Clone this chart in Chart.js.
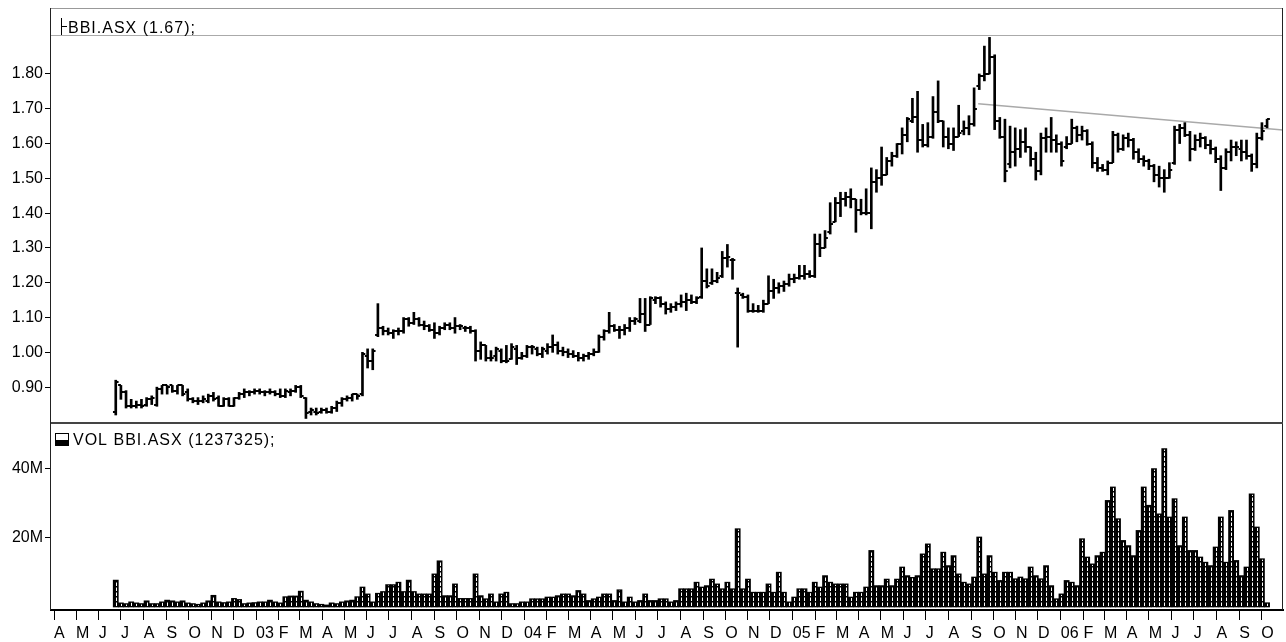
<!DOCTYPE html>
<html><head><meta charset="utf-8">
<script src="https://cdn.jsdelivr.net/npm/chart.js@4.4.1/dist/chart.umd.min.js"></script>
<style>html,body{margin:0;padding:0;background:#fff;overflow:hidden}canvas{display:block}</style>
</head><body>
<canvas id="c" width="1286" height="642" style="width:1286px;height:642px"></canvas>
<script>
// ---- data (weekly bars, week index = weeks after Mon 1 Apr 2002) ----
const symbol = 'BBI.ASX';
const lastClose = '1.67';
const lastVolume = '1237325';
const firstWeek = 12;
const opens = [
0.83,0.905,0.885,0.845,0.845,0.85,0.85,0.865,0.85,0.895,
0.905,0.905,0.89,0.905,0.885,0.865,0.86,0.86,0.86,0.875,
0.87,0.845,0.865,0.845,0.87,0.88,0.885,0.885,0.89,0.885,
0.885,0.885,0.88,0.875,0.885,0.89,0.9,0.87,0.83,0.83,
0.83,0.835,0.83,0.84,0.855,0.865,0.87,0.88,0.88,0.99,
0.975,1.05,1.07,1.06,1.055,1.06,1.06,1.095,1.085,1.095,
1.08,1.075,1.065,1.055,1.07,1.08,1.07,1.075,1.07,1.07,
1.06,1.005,1.02,0.985,0.99,1.005,0.975,0.98,1.01,0.985,
0.99,1.015,1.01,0.995,1.005,1.015,1.02,1.005,1.0,0.995,
0.99,0.985,0.99,0.995,1.0,1.045,1.06,1.075,1.065,1.065,
1.07,1.09,1.09,1.11,1.08,1.15,1.155,1.14,1.125,1.13,
1.14,1.145,1.15,1.145,1.16,1.205,1.2,1.205,1.22,1.27,
1.265,1.17,1.165,1.16,1.12,1.12,1.12,1.14,1.175,1.185,
1.19,1.195,1.21,1.215,1.22,1.225,1.22,1.31,1.3,1.345,
1.375,1.43,1.44,1.445,1.44,1.41,1.4,1.4,1.49,1.5,
1.51,1.55,1.565,1.6,1.625,1.665,1.675,1.61,1.595,1.62,
1.69,1.665,1.62,1.6,1.62,1.635,1.645,1.655,1.765,1.795,
1.8,1.85,1.665,1.62,1.54,1.575,1.585,1.605,1.59,1.555,
1.52,1.615,1.62,1.61,1.6,1.59,1.6,1.645,1.625,1.635,
1.6,1.545,1.53,1.525,1.545,1.625,1.585,1.615,1.61,1.575,
1.555,1.55,1.535,1.51,1.5,1.5,1.545,1.64,1.645,1.625,
1.585,1.61,1.615,1.595,1.585,1.555,1.53,1.575,1.59,1.585,
1.575,1.565,1.54,1.615,1.65];
const highs = [
0.92,0.905,0.89,0.865,0.86,0.865,0.87,0.875,0.9,0.905,
0.905,0.905,0.905,0.905,0.895,0.87,0.87,0.875,0.88,0.885,
0.875,0.87,0.87,0.87,0.885,0.895,0.89,0.895,0.895,0.89,
0.895,0.89,0.895,0.895,0.895,0.905,0.905,0.87,0.84,0.84,
0.84,0.84,0.845,0.86,0.87,0.875,0.88,0.88,1.0,1.01,
1.01,1.14,1.075,1.07,1.065,1.07,1.1,1.1,1.115,1.1,
1.09,1.08,1.085,1.075,1.085,1.085,1.1,1.08,1.075,1.075,
1.065,1.03,1.02,1.005,1.015,1.01,1.02,1.025,1.02,1.0,
1.02,1.02,1.015,1.015,1.025,1.05,1.03,1.015,1.01,1.005,
1.0,0.995,1.0,1.01,1.05,1.065,1.115,1.08,1.075,1.08,
1.1,1.1,1.155,1.155,1.16,1.16,1.16,1.145,1.14,1.145,
1.165,1.17,1.165,1.16,1.3,1.24,1.24,1.23,1.29,1.31,
1.27,1.185,1.17,1.165,1.14,1.135,1.15,1.22,1.21,1.2,
1.205,1.225,1.225,1.25,1.25,1.235,1.34,1.34,1.35,1.43,
1.445,1.46,1.46,1.47,1.44,1.44,1.47,1.53,1.525,1.59,
1.56,1.575,1.6,1.645,1.675,1.73,1.75,1.655,1.66,1.735,
1.78,1.665,1.645,1.645,1.71,1.665,1.68,1.76,1.8,1.88,
1.905,1.855,1.675,1.67,1.65,1.645,1.64,1.645,1.59,1.575,
1.63,1.645,1.675,1.625,1.605,1.62,1.67,1.65,1.65,1.64,
1.605,1.56,1.54,1.55,1.635,1.63,1.625,1.63,1.615,1.585,
1.565,1.555,1.54,1.535,1.525,1.545,1.65,1.655,1.66,1.635,
1.625,1.63,1.62,1.61,1.59,1.565,1.585,1.61,1.605,1.61,
1.61,1.57,1.63,1.66,1.67];
const lows = [
0.82,0.865,0.84,0.84,0.84,0.84,0.845,0.85,0.845,0.88,
0.88,0.885,0.88,0.875,0.86,0.855,0.85,0.855,0.855,0.86,
0.845,0.845,0.845,0.845,0.865,0.87,0.875,0.88,0.88,0.875,
0.88,0.875,0.87,0.87,0.875,0.885,0.87,0.81,0.82,0.82,
0.825,0.825,0.825,0.83,0.845,0.86,0.86,0.865,0.875,0.955,
0.95,1.045,1.05,1.05,1.04,1.05,1.055,1.075,1.08,1.075,
1.065,1.06,1.04,1.05,1.065,1.065,1.055,1.065,1.06,1.055,
0.975,0.98,0.975,0.975,0.975,0.97,0.97,0.98,0.965,0.98,
0.985,0.995,0.99,0.985,0.995,1.0,0.995,0.99,0.985,0.985,
0.975,0.975,0.98,0.99,1.0,1.035,1.055,1.06,1.04,1.05,
1.06,1.08,1.085,1.06,1.08,1.14,1.13,1.11,1.115,1.12,
1.13,1.12,1.14,1.14,1.155,1.185,1.195,1.2,1.215,1.245,
1.21,1.015,1.155,1.115,1.115,1.115,1.115,1.14,1.155,1.17,
1.175,1.19,1.2,1.21,1.21,1.215,1.215,1.275,1.3,1.34,
1.375,1.39,1.42,1.415,1.345,1.395,1.395,1.355,1.46,1.48,
1.51,1.535,1.56,1.57,1.605,1.66,1.575,1.59,1.59,1.615,
1.66,1.59,1.585,1.58,1.62,1.625,1.625,1.65,1.755,1.78,
1.8,1.64,1.615,1.49,1.53,1.535,1.56,1.575,1.535,1.495,
1.51,1.575,1.575,1.575,1.535,1.585,1.6,1.605,1.61,1.595,
1.53,1.52,1.52,1.51,1.545,1.575,1.58,1.59,1.555,1.545,
1.535,1.525,1.49,1.475,1.46,1.5,1.54,1.6,1.62,1.55,
1.58,1.59,1.585,1.57,1.545,1.465,1.525,1.55,1.565,1.55,
1.555,1.52,1.53,1.61,1.645];
const closes = [
0.915,0.885,0.845,0.845,0.85,0.845,0.865,0.87,0.895,0.905,
0.9,0.89,0.905,0.88,0.865,0.86,0.86,0.865,0.875,0.865,
0.845,0.865,0.845,0.87,0.88,0.885,0.885,0.89,0.885,0.885,
0.885,0.88,0.875,0.89,0.89,0.9,0.875,0.825,0.835,0.825,
0.835,0.83,0.84,0.855,0.865,0.87,0.88,0.875,0.995,0.975,
1.005,1.07,1.06,1.055,1.06,1.06,1.095,1.085,1.095,1.08,
1.075,1.065,1.055,1.07,1.08,1.07,1.075,1.075,1.07,1.06,
1.005,1.02,0.985,0.985,1.01,0.975,0.975,1.015,0.985,0.99,
1.015,1.015,0.995,1.01,1.015,1.02,1.005,1.0,0.995,0.99,
0.985,0.99,0.995,1.0,1.045,1.06,1.075,1.065,1.065,1.07,
1.09,1.095,1.11,1.08,1.155,1.155,1.14,1.125,1.13,1.14,
1.145,1.15,1.145,1.155,1.205,1.19,1.205,1.215,1.27,1.275,
1.265,1.17,1.16,1.12,1.12,1.12,1.14,1.175,1.185,1.19,
1.195,1.21,1.215,1.22,1.225,1.22,1.31,1.3,1.33,1.37,
1.43,1.44,1.445,1.44,1.41,1.4,1.4,1.49,1.5,1.51,
1.55,1.565,1.6,1.625,1.67,1.675,1.61,1.595,1.62,1.69,
1.665,1.62,1.6,1.62,1.63,1.645,1.655,1.7,1.795,1.8,
1.85,1.665,1.62,1.52,1.575,1.585,1.605,1.59,1.555,1.52,
1.615,1.62,1.61,1.6,1.55,1.6,1.645,1.625,1.635,1.6,
1.545,1.53,1.525,1.545,1.625,1.585,1.615,1.61,1.575,1.555,
1.55,1.535,1.51,1.5,1.5,1.525,1.64,1.645,1.625,1.585,
1.61,1.615,1.595,1.585,1.555,1.53,1.575,1.59,1.59,1.575,
1.565,1.54,1.615,1.635,1.67];
const volumes = [ // millions of shares
7.8,1.2,1.0,1.5,1.2,1.0,1.8,1.0,1.0,1.5,
2.0,1.8,1.5,1.8,1.2,1.0,0.8,1.2,1.8,3.4,
1.5,1.3,1.5,2.5,2.2,1.0,1.2,1.3,1.5,1.5,
2.0,1.5,1.2,3.0,3.2,3.2,4.6,2.0,1.5,1.0,
0.8,0.6,1.2,1.0,1.5,1.8,2.0,3.0,5.8,3.8,
1.5,4.0,4.5,6.5,6.5,7.2,4.5,7.8,4.5,3.8,
3.8,3.8,9.6,13.4,3.3,3.3,6.7,2.5,2.5,2.5,
9.6,3.3,2.4,3.8,1.5,3.8,4.3,1.0,1.0,1.5,
1.5,2.4,2.4,2.4,2.9,2.9,3.3,3.8,3.8,3.3,
4.8,3.8,1.9,2.4,2.9,3.8,3.8,1.9,5.0,1.5,
2.9,1.5,1.9,3.8,1.9,1.9,2.4,2.4,1.5,1.9,
5.3,5.3,5.3,7.2,5.8,6.2,8.1,6.7,5.3,7.2,
5.3,22.7,5.3,8.1,4.3,4.3,4.3,6.7,4.3,10.1,
4.3,1.5,2.9,5.3,5.3,4.3,7.2,5.8,9.1,7.2,
6.7,6.7,6.7,2.9,4.3,4.3,5.8,16.4,6.2,6.2,
8.1,6.2,8.1,11.6,9.1,8.6,9.1,15.4,18.3,11.1,
11.1,15.9,12.0,14.9,9.6,7.2,6.7,8.7,20.3,9.6,
14.9,10.1,7.7,10.1,10.1,8.2,8.7,8.2,11.6,9.1,
8.2,12.0,6.2,2.4,3.8,7.7,7.2,6.2,19.8,14.5,
12.5,14.9,15.9,30.9,34.8,25.6,19.3,17.8,14.9,22.2,
34.8,29.5,40.1,27.0,45.9,26.1,31.4,17.8,26.1,16.4,
16.4,14.5,13.0,12.0,17.4,26.1,13.0,28.0,13.5,9.1,
11.6,32.8,23.2,14.0,1.24];
const monthLabels = ['A','M','J','J','A','S','O','N','D',
 '03','F','M','A','M','J','J','A','S','O','N','D',
 '04','F','M','A','M','J','J','A','S','O','N','D',
 '05','F','M','A','M','J','J','A','S','O','N','D',
 '06','F','M','A','M','J','J','A','S','O'];
const priceTicks = [0.9,1.0,1.1,1.2,1.3,1.4,1.5,1.6,1.7,1.8];
const volumeTicks = [20,40];
const trendX = [179.8, 239.1];
const trendY = [1.714, 1.639];

// month tick positions in week units (calendar derived)
const base = Date.UTC(2002, 3, 1);
const monthTicks = monthLabels.map((_, k) => (Date.UTC(2002, 3 + k, 1) - base) / (7 * 86400000));

const YFONT = {family: "'Liberation Sans', Arial, sans-serif", size: 16};
const XFONT = {family: "'Liberation Sans Narrow', 'Liberation Sans', Arial, sans-serif", size: 16};

const decor = {
  id: 'decor',
  afterDatasetsDraw(chart) {
    const {ctx, scales: {x, y}} = chart;
    ctx.save();
    // hatch inside volume bars
    const vm = chart.getDatasetMeta(0);
    ctx.fillStyle = '#fff';
    vm.data.forEach(bar => {
      const p = bar.getProps(['x', 'y', 'base'], true);
      const top = Math.min(p.y, p.base), bot = Math.max(p.y, p.base);
      if (bot - top < 2.5) return;
      const cx = Math.round(p.x);
      for (let yy = bot - 1; yy > top + 1; yy -= 5) {
        const y0 = Math.max(top + 1, yy - 3.5);
        ctx.fillRect(cx, y0, 1, yy - y0);
      }
    });
    // open / close ticks
    ctx.fillStyle = '#000';
    opens.forEach((o, k) => {
      const px = x.getPixelForValue(firstWeek + k);
      const po = Math.round(y.getPixelForValue(o));
      const pc = Math.round(y.getPixelForValue(closes[k]));
      ctx.fillRect(px - 2.8, po - 1, 2.8, 2);
      ctx.fillRect(px, pc - 1, 2.8, 2);
    });
    ctx.restore();
  },
  afterDraw(chart) {
    const {ctx, chartArea: ca, scales: {yv}} = chart;
    ctx.save();
    const L = ca.left, R = ca.right;
    // frame
    ctx.fillStyle = '#999';
    ctx.fillRect(L, 8, R - L, 1);            // top
    ctx.fillStyle = '#aaa';
    ctx.fillRect(L, ca.top - 1, R - L, 1);   // header separator
    ctx.fillStyle = '#222';
    ctx.fillRect(L - 1, 8, 1, ca.bottom - 8);     // left
    ctx.fillRect(R - 1, 8, 1, ca.bottom - 8);     // right
    ctx.fillStyle = '#444';
    ctx.fillRect(L, yv.top - 1, R - L, 2);   // panel separator
    // headers
    ctx.fillStyle = '#000';
    ctx.strokeStyle = '#000';
    ctx.lineWidth = 1;
    ctx.beginPath();
    ctx.moveTo(61.5, 18); ctx.lineTo(61.5, 35);
    ctx.moveTo(61.5, 26.5); ctx.lineTo(67, 26.5);
    ctx.stroke();
    ctx.font = "16px 'Liberation Sans', Arial, sans-serif";
    try { ctx.letterSpacing = '1px'; } catch (e) {}
    ctx.textBaseline = 'alphabetic';
    ctx.textAlign = 'left';
    ctx.fillText(symbol + ' (' + lastClose + ');', 68, 33);
    // volume header icon
    ctx.strokeRect(55.5, yv.top + 10.5, 13, 12);
    ctx.fillRect(55, yv.top + 17, 14, 6);
    ctx.fillText('VOL ' + symbol + ' (' + lastVolume + ');', 73, yv.top + 22);
    ctx.restore();
  }
};

new Chart(document.getElementById('c'), {
  type: 'bar',
  data: {
    datasets: [
      {
        type: 'bar', label: 'VOL', xAxisID: 'x', yAxisID: 'yv', grouped: false,
        data: volumes.map((v, k) => ({x: firstWeek + k, y: v})),
        backgroundColor: '#000', borderWidth: 0, barPercentage: 1, categoryPercentage: 1
      },
      {
        type: 'bar', label: symbol, xAxisID: 'x', yAxisID: 'y', grouped: false,
        data: highs.map((h, k) => ({x: firstWeek + k, y: [lows[k], h]})),
        backgroundColor: '#000', borderWidth: 0, barThickness: 2
      },
      {
        type: 'line', label: 'trend', xAxisID: 'x', yAxisID: 'y',
        data: trendX.map((v, k) => ({x: v, y: trendY[k]})),
        borderColor: '#a9a9a9', borderWidth: 1.5, pointRadius: 0, fill: false
      }
    ]
  },
  options: {
    responsive: false, animation: false, events: [],
    devicePixelRatio: 1,
    layout: {padding: {top: 36, right: 3, left: 0, bottom: 0}},
    plugins: {legend: {display: false}, tooltip: {enabled: false}, title: {display: false}},
    scales: {
      x: {
        type: 'linear', position: 'bottom', min: -0.6, max: 239.1, offset: false,
        afterBuildTicks: s => { s.ticks = monthTicks.map(v => ({value: v})); },
        afterFit: s => { s.height = 32; },
        ticks: {autoSkip: false, maxRotation: 0, align: 'start', padding: 4, color: '#000', font: XFONT,
                callback: (v, i) => monthLabels[i]},
        grid: {drawOnChartArea: false, drawTicks: true, tickLength: 10, color: '#000', lineWidth: 1, offset: false},
        border: {display: true, color: '#000', width: 2}
      },
      y: {
        type: 'linear', position: 'left', stack: 'panes', stackWeight: 387, weight: 2,
        min: 0.797, max: 1.909,
        afterBuildTicks: s => { s.ticks = priceTicks.map(v => ({value: v})); },
        afterFit: s => { s.width = 51; },
        ticks: {color: '#000', font: YFONT, padding: 2, callback: v => v.toFixed(2)},
        grid: {drawOnChartArea: false, drawTicks: true, tickLength: 6, color: '#000'},
        border: {display: false}
      },
      yv: {
        type: 'linear', position: 'left', stack: 'panes', stackWeight: 187, weight: 1,
        min: -0.87, max: 53.33,
        afterBuildTicks: s => { s.ticks = volumeTicks.map(v => ({value: v})); },
        afterFit: s => { s.width = 51; },
        ticks: {color: '#000', font: YFONT, padding: 2, callback: v => v + 'M'},
        grid: {drawOnChartArea: false, drawTicks: true, tickLength: 6, color: '#000'},
        border: {display: false}
      }
    }
  },
  plugins: [decor]
});
</script>
</body></html>
